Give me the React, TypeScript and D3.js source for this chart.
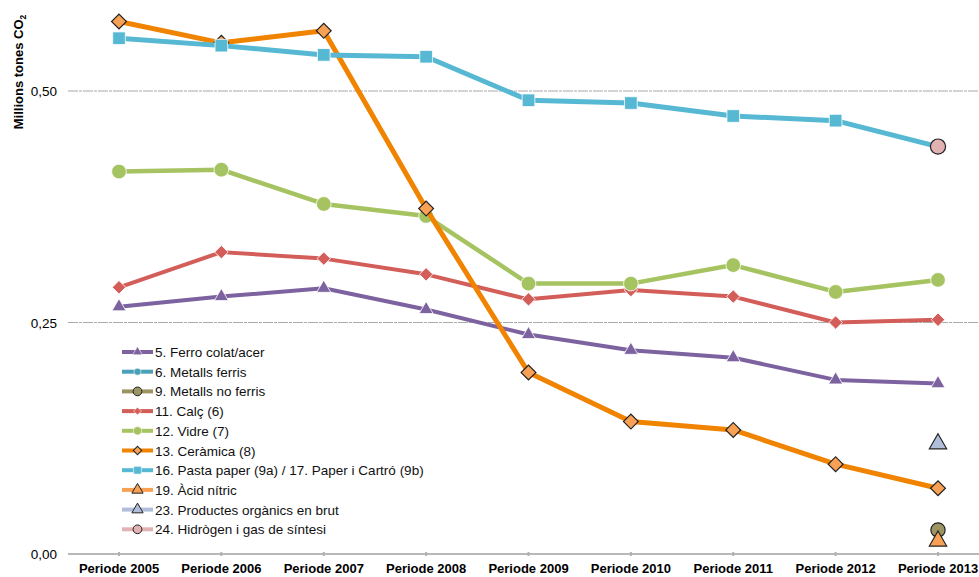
import { useEffect, useRef } from 'react';
import * as d3 from 'd3';

const periods = ['Periode 2005', 'Periode 2006', 'Periode 2007', 'Periode 2008', 'Periode 2009', 'Periode 2010', 'Periode 2011', 'Periode 2012', 'Periode 2013'];
const yTicks = [0, 0.25, 0.5];

const ferroColat = [0.267, 0.278, 0.287, 0.264, 0.237, 0.22, 0.212, 0.188, 0.184];
const metallsFerris: (number | null)[] = [null, null, null, null, null, null, null, null, null];
const metallsNoFerris: (number | null)[] = [null, null, null, null, null, null, null, null, 0.026];
const calc = [0.288, 0.326, 0.319, 0.302, 0.275, 0.285, 0.278, 0.25, 0.253];
const vidre = [0.413, 0.415, 0.378, 0.365, 0.292, 0.292, 0.312, 0.283, 0.296];
const ceramica = [0.575, 0.552, 0.565, 0.373, 0.196, 0.143, 0.134, 0.097, 0.071];
const pastaPaper = [0.557, 0.549, 0.539, 0.537, 0.49, 0.487, 0.473, 0.468, 0.44];
const acidNitric: (number | null)[] = [null, null, null, null, null, null, null, null, 0.014];
const organics: (number | null)[] = [null, null, null, null, null, null, null, null, 0.119];
const hidrogen: (number | null)[] = [null, null, null, null, null, null, null, null, 0.44];

interface Series {
  name: string;
  values: (number | null)[];
  line: string;
  fill: string;
  stroke: string;
  shape: 'triangle' | 'circle' | 'diamond' | 'square';
  size: number;
  width: number;
  legendSize: number;
}

const series: Series[] = [
  { name: '5. Ferro colat/acer', values: ferroColat, line: '#7d62a0', fill: '#7d62a0', stroke: '#fff', shape: 'triangle', size: 85, width: 4, legendSize: 40 },
  { name: '6. Metalls ferris', values: metallsFerris, line: '#4aa0b8', fill: '#4aa0b8', stroke: '#fff', shape: 'circle', size: 90, width: 4, legendSize: 40 },
  { name: '9. Metalls no ferris', values: metallsNoFerris, line: '#9c9462', fill: '#9c9462', stroke: '#222', shape: 'circle', size: 160, width: 4, legendSize: 60 },
  { name: '11. Calç (6)', values: calc, line: '#d35d58', fill: '#d35d58', stroke: '#fff', shape: 'diamond', size: 90, width: 4, legendSize: 30 },
  { name: '12. Vidre (7)', values: vidre, line: '#a6c361', fill: '#a6c361', stroke: '#fff', shape: 'circle', size: 170, width: 4.5, legendSize: 55 },
  { name: '13. Ceràmica (8)', values: ceramica, line: '#f08300', fill: '#f8a155', stroke: '#222', shape: 'diamond', size: 110, width: 5, legendSize: 35 },
  { name: '16. Pasta paper (9a) / 17. Paper i Cartró (9b)', values: pastaPaper, line: '#56b8d3', fill: '#56b8d3', stroke: '#fff', shape: 'square', size: 160, width: 5, legendSize: 60 },
  { name: '19. Àcid nítric', values: acidNitric, line: '#f8a155', fill: '#f8a155', stroke: '#222', shape: 'triangle', size: 130, width: 4, legendSize: 55 },
  { name: '23. Productes orgànics en brut', values: organics, line: '#b0bedb', fill: '#b0bedb', stroke: '#222', shape: 'triangle', size: 130, width: 4, legendSize: 55 },
  { name: '24. Hidrògen i gas de síntesi', values: hidrogen, line: '#e2b1b1', fill: '#e2b1b1', stroke: '#222', shape: 'circle', size: 180, width: 4, legendSize: 60 },
];

// draw order: lower lines first, ceramica under pasta paper
const drawOrder = [0, 1, 3, 4, 5, 6, 2, 7, 8, 9];

const shapeType = {
  triangle: d3.symbolTriangle,
  circle: d3.symbolCircle,
  diamond: d3.symbolSquare,
  square: d3.symbolSquare,
};

const App = () => {
  const svgRef = useRef<SVGSVGElement>(null);

  useEffect(() => {
    document.body.style.margin = '0';
    if (!svgRef.current) return;
    const svg = d3.select(svgRef.current);
    svg.selectAll('*').remove();

    const font = 'Liberation Sans, Arial, sans-serif';

    const x = d3.scalePoint<string>().domain(periods).range([119, 938]);
    const y = d3.scaleLinear().domain([0, 0.5]).range([554, 91]);

    // grid lines
    svg.selectAll('.grid')
      .data(yTicks.filter(t => t > 0))
      .enter().append('line')
      .attr('x1', 68).attr('x2', 979)
      .attr('y1', d => y(d)).attr('y2', d => y(d))
      .attr('stroke', '#aaa')
      .attr('stroke-width', 1.2)
      .attr('stroke-dasharray', '10,1,3,1');

    // x axis line
    svg.append('line')
      .attr('x1', 68).attr('x2', 979)
      .attr('y1', y(0)).attr('y2', y(0))
      .attr('stroke', '#a0a0a0').attr('stroke-width', 1.5);

    svg.selectAll('.xtick')
      .data(periods)
      .enter().append('line')
      .attr('x1', d => x(d)!).attr('x2', d => x(d)!)
      .attr('y1', y(0) - 2).attr('y2', y(0) + 2)
      .attr('stroke', '#b0b0b0').attr('stroke-width', 2);

    svg.selectAll('.xlabel')
      .data(periods)
      .enter().append('text')
      .attr('x', d => x(d)!)
      .attr('y', 573)
      .attr('text-anchor', 'middle')
      .attr('font-family', font)
      .attr('font-weight', 'bold')
      .attr('font-size', 13)
      .text(d => d);

    svg.selectAll('.ylabel')
      .data(yTicks)
      .enter().append('text')
      .attr('x', 57)
      .attr('y', d => y(d) + 5)
      .attr('text-anchor', 'end')
      .attr('font-family', font)
      .attr('font-size', 13.5)
      .text(d => d3.format('.2f')(d).replace('.', ','));

    const title = svg.append('text')
      .attr('transform', 'translate(23,72) rotate(-90)')
      .attr('text-anchor', 'middle')
      .attr('font-family', font)
      .attr('font-weight', 'bold')
      .attr('font-size', 13);
    title.append('tspan').text('Millions tones CO');
    title.append('tspan').attr('font-size', 8.5).attr('dy', 3).text('2');

    const line = d3.line<number | null>()
      .defined(d => d !== null)
      .x((_, i) => x(periods[i])!)
      .y(d => y(d as number));

    const marker = (s: Series, size: number) => d3.symbol().type(shapeType[s.shape]).size(size)();

    drawOrder.forEach(idx => {
      const s = series[idx];
      const g = svg.append('g');
      g.append('path')
        .attr('d', line(s.values))
        .attr('fill', 'none')
        .attr('stroke', s.line)
        .attr('stroke-width', s.width)
        .attr('stroke-linejoin', 'round');
      const pts = s.values.map((v, i) => ({ v, i })).filter(p => p.v !== null);
      g.selectAll('path.m')
        .data(pts)
        .enter().append('path')
        .attr('class', 'm')
        .attr('d', marker(s, s.size))
        .attr('transform', p => `translate(${x(periods[p.i])},${y(p.v as number)})${s.shape === 'diamond' ? ' rotate(45)' : ''}`)
        .attr('fill', s.fill)
        .attr('stroke', s.stroke)
        .attr('stroke-width', s.stroke === '#fff' ? 0.8 : 1.2);
    });

    // legend
    const legend = svg.append('g');
    series.forEach((s, i) => {
      const ly = 352 + i * 19.7;
      legend.append('line')
        .attr('x1', 122).attr('x2', 153)
        .attr('y1', ly).attr('y2', ly)
        .attr('stroke', s.line).attr('stroke-width', 4);
      legend.append('path')
        .attr('d', marker(s, s.legendSize))
        .attr('transform', `translate(137.5,${ly})${s.shape === 'diamond' ? ' rotate(45)' : ''}`)
        .attr('fill', s.fill)
        .attr('stroke', s.stroke)
        .attr('stroke-width', s.stroke === '#fff' ? 0.6 : 1);
      legend.append('text')
        .attr('x', 155)
        .attr('y', ly + 5)
        .attr('font-family', font)
        .attr('font-size', 13.5)
        .attr('fill', '#111')
        .text(s.name);
    });
  }, []);

  return <svg ref={svgRef} width={979} height={577} style={{ display: 'block', background: '#fff' }} />;
};

export default App;
